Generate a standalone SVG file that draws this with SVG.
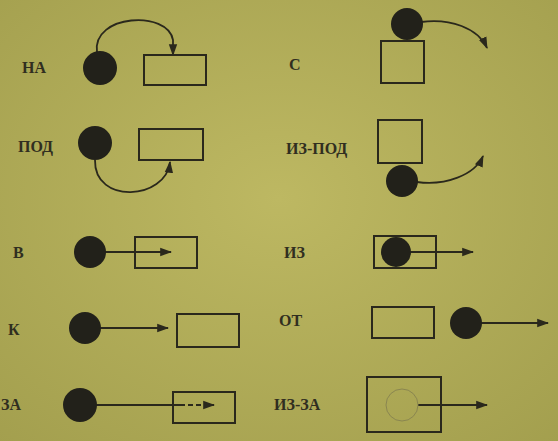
<svg xmlns="http://www.w3.org/2000/svg" width="558" height="441" viewBox="0 0 558 441">
<defs>
<style>
.lbl{font-family:"Liberation Serif","DejaVu Serif",serif;font-weight:bold;font-size:16px;fill:#302e20}
.box{fill:none;stroke:#2a281c;stroke-width:2}
.dot{fill:#22211a}
.ln{fill:none;stroke:#2a281c;stroke-width:1.8}
</style>
<marker id="ah" viewBox="0 0 10 10" refX="9" refY="5" markerWidth="12" markerHeight="12" orient="auto" markerUnits="userSpaceOnUse">
<path d="M0,1.5 L10,5 L0,8.5 z" fill="#2a281c"/>
</marker>
<radialGradient id="bg" cx="50%" cy="45%" r="75%">
<stop offset="0" stop-color="#bdb862"/>
<stop offset="1" stop-color="#a39f4e"/>
</radialGradient>
</defs>
<rect width="558" height="441" fill="url(#bg)"/>

<g id="connectors">
<path class="ln" d="M97,52 C92,14 168,10 173,40 L173,55" marker-end="url(#ah)"/>
<path class="ln" d="M95,160 C94,205 166,200 170,162" marker-end="url(#ah)"/>
<path class="ln" d="M421,22 C450,18 478,28 487,48" marker-end="url(#ah)"/>
<path class="ln" d="M417,182 C445,186 475,175 483,156" marker-end="url(#ah)"/>
<path class="ln" d="M105,252 L171,252" marker-end="url(#ah)"/>
<path class="ln" d="M100,328 L168,328" marker-end="url(#ah)"/>
<path class="ln" d="M96,405 L180,405"/>
<path class="ln" d="M180,405 L214,405" stroke-dasharray="5,3" marker-end="url(#ah)"/>
<path class="ln" d="M410,252 L473,252" marker-end="url(#ah)"/>
<path class="ln" d="M481,323 L548,323" marker-end="url(#ah)"/>
<path class="ln" d="M418,405 L487,405" marker-end="url(#ah)"/>
</g>

<g id="na">
<text class="lbl" x="22" y="73">НА</text>
<circle class="dot" cx="100" cy="68" r="17"/>
<rect class="box" x="144" y="55" width="62" height="30"/>
</g>
<g id="pod">
<text class="lbl" x="18" y="152">ПОД</text>
<circle class="dot" cx="95" cy="143" r="17"/>
<rect class="box" x="139" y="129" width="64" height="31"/>
</g>
<g id="s">
<text class="lbl" x="289" y="70">С</text>
<rect class="box" x="381" y="41" width="43" height="42"/>
<circle class="dot" cx="407" cy="24" r="16"/>
</g>
<g id="iz-pod">
<text class="lbl" x="286" y="154">ИЗ-ПОД</text>
<rect class="box" x="378" y="120" width="44" height="43"/>
<circle class="dot" cx="402" cy="181" r="16"/>
</g>
<g id="v">
<text class="lbl" x="13" y="258">В</text>
<circle class="dot" cx="90" cy="252" r="16"/>
<rect class="box" x="135" y="237" width="62" height="31"/>
</g>
<g id="k">
<text class="lbl" x="8" y="335">К</text>
<circle class="dot" cx="85" cy="328" r="16"/>
<rect class="box" x="177" y="314" width="62" height="33"/>
</g>
<g id="za">
<text class="lbl" x="1" y="410">ЗА</text>
<circle class="dot" cx="80" cy="405" r="17"/>
<rect class="box" x="173" y="392" width="62" height="31"/>
</g>
<g id="iz">
<text class="lbl" x="284" y="258">ИЗ</text>
<rect class="box" x="374" y="236" width="62" height="32"/>
<circle class="dot" cx="396" cy="252" r="15"/>
</g>
<g id="ot">
<text class="lbl" x="279" y="326">ОТ</text>
<rect class="box" x="372" y="307" width="62" height="31"/>
<circle class="dot" cx="466" cy="323" r="16"/>
</g>
<g id="iz-za">
<text class="lbl" x="274" y="410">ИЗ-ЗА</text>
<rect class="box" x="367" y="377" width="74" height="55"/>
<circle cx="402" cy="405" r="16" fill="none" stroke="#8a8650" stroke-width="1"/>
</g>
</svg>
